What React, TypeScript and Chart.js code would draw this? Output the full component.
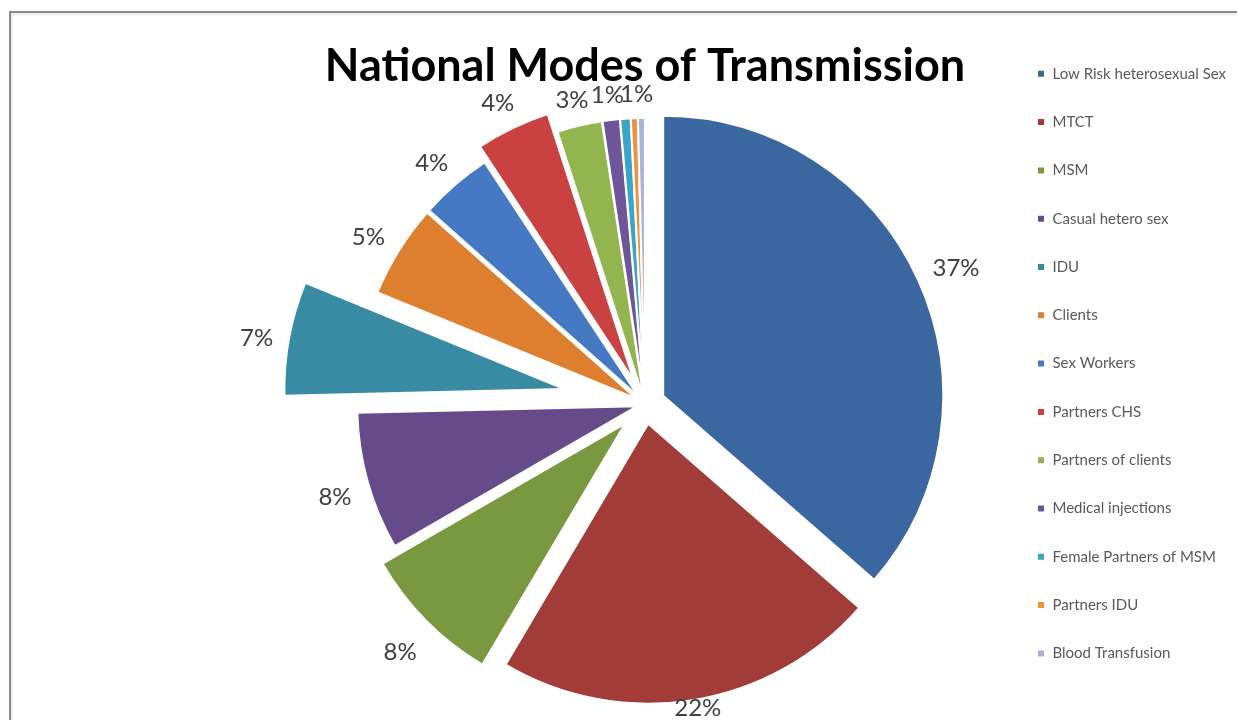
import React, { useEffect, useRef } from 'react';
import { Chart, ArcElement, PieController, Title, Legend } from 'chart.js';

const categories = [
  'Low Risk heterosexual Sex',
  'MTCT',
  'MSM',
  'Casual hetero sex',
  'IDU',
  'Clients',
  'Sex Workers',
  'Partners CHS',
  'Partners of clients',
  'Medical injections',
  'Female Partners of MSM',
  'Partners IDU',
  'Blood Transfusion',
];
const shares = [36.6, 22.2, 8.2, 8.0, 6.6, 5.4, 4.2, 4.3, 2.6, 1.0, 0.6, 0.4, 0.4];
const colors = [
  '#3b67a1', '#a13c39', '#7a983f', '#664b8a', '#388ba3', '#de7e2f', '#4579c3',
  '#c94141', '#93b550', '#6f569b', '#3aa6c7', '#f0923e', '#a9b3d9',
];
const explode = [20, 20, 28, 8, 82, 10, 10, 26, 6, 6, 6, 6, 6];

const TITLE = 'National Modes of Transmission';
const LEGEND_FONT = { family: 'Lato', size: 15 };
const PIE_CX = 645;
const PIE_CY = 404;
const LEGEND_BOX_X = 1037;
const LEGEND_PAD = 33.3;
const TOP_PAD = 33;
const TITLE_SIZE = 45;
const TITLE_PAD_TOP = 6;

class ExplodedArc extends ArcElement {
  static id = 'explodedArc';
  draw(ctx: CanvasRenderingContext2D) {
    const d = (this as any).explodeBy || 0;
    const a: any = this;
    const half = (a.startAngle + a.endAngle) / 2;
    ctx.save();
    ctx.translate(Math.cos(half) * d, Math.sin(half) * d);
    super.draw(ctx);
    ctx.restore();
  }
}

class ExplodedPieController extends PieController {
  static id = 'explodedPie';
  static defaults = { dataElementType: 'explodedArc' };
  updateElements(arcs: any[], start: number, count: number, mode: any) {
    super.updateElements(arcs as any, start, count, mode);
    for (let i = start; i < start + count; i++) {
      arcs[i].explodeBy = explode[i] || 0;
    }
  }
}

Chart.register(ArcElement, PieController, ExplodedArc, ExplodedPieController as any, Title, Legend);

const pctLabels = {
  id: 'pctLabels',
  afterDatasetsDraw(chart: any) {
    const meta = chart.getDatasetMeta(0);
    const ctx: CanvasRenderingContext2D = chart.ctx;
    ctx.save();
    ctx.font = '24px Lato';
    ctx.fillStyle = '#404040';
    ctx.textAlign = 'center';
    ctx.textBaseline = 'middle';
    const h = 30;
    const drop = 6;
    let prev: { l: number; r: number; t: number; b: number } | null = null;
    meta.data.forEach((arc: any, i: number) => {
      const pct = Math.round(shares[i]);
      if (pct < 1) return;
      const p = arc.getProps(['x', 'y', 'startAngle', 'endAngle', 'outerRadius'], true);
      const half = (p.startAngle + p.endAngle) / 2;
      const c = Math.cos(half);
      const s = Math.sin(half);
      const text = pct + '%';
      const w = ctx.measureText(text).width;
      const dist = p.outerRadius + explode[i] + 14 + Math.abs(c) * w / 2 + Math.abs(s) * h / 2;
      let x = p.x + c * dist;
      let y = Math.min(p.y + s * dist + drop, chart.height - 12);
      const th = 18;
      if (prev && x - w / 2 < prev.r && x + w / 2 > prev.l && y - th / 2 < prev.b && y + th / 2 > prev.t) {
        x = prev.r + w / 2 - 4;
      }
      ctx.fillText(text, x, y);
      prev = { l: x - w / 2, r: x + w / 2, t: y - th / 2, b: y + th / 2 };
    });
    ctx.restore();
  },
};

export default function App() {
  const ref = useRef<HTMLCanvasElement>(null);

  useEffect(() => {
    if (!ref.current) return;
    const mctx = document.createElement('canvas').getContext('2d')!;
    mctx.font = `${LEGEND_FONT.size}px ${LEGEND_FONT.family}`;
    const maxText = Math.max(...categories.map((c) => mctx.measureText(c).width));
    const itemWidth = 8 + LEGEND_FONT.size / 2 + maxText;
    const R = Math.max(0, 1237 - LEGEND_BOX_X - itemWidth - 10);
    const legendWidth = LEGEND_PAD + itemWidth + 10;
    const legendLeft = 1237 - R - legendWidth;
    const L = 2 * PIE_CX - legendLeft;
    const areaTop = TOP_PAD + TITLE_PAD_TOP + TITLE_SIZE * 1.2;
    const B = Math.max(0, areaTop + 720 - 2 * PIE_CY);

    const chart = new Chart(ref.current, {
      type: 'explodedPie' as any,
      data: {
        labels: categories,
        datasets: [
          {
            data: shares,
            backgroundColor: colors,
            borderColor: '#ffffff',
            borderWidth: 2,
            radius: 280,
            clip: false,
          } as any,
        ],
      },
      plugins: [pctLabels],
      options: {
        responsive: false,
        animation: false,
        events: [],
        layout: { padding: { left: L, right: R, top: TOP_PAD, bottom: B } },
        plugins: {
          title: {
            display: true,
            text: TITLE,
            fullSize: false,
            color: '#000000',
            font: { family: 'Lato', size: TITLE_SIZE, weight: 'bold' },
            padding: { top: TITLE_PAD_TOP, bottom: 0 },
          },
          legend: {
            display: true,
            position: 'right',
            align: 'start',
            labels: {
              boxWidth: 8,
              boxHeight: 8,
              padding: LEGEND_PAD,
              color: '#595959',
              font: LEGEND_FONT,
            },
          },
          tooltip: { enabled: false },
        },
      } as any,
    });
    return () => chart.destroy();
  }, []);

  return (
    <div style={{ position: 'fixed', left: 0, top: 0, width: 1237, height: 720, overflow: 'hidden', background: '#fff' }}>
      <div
        style={{
          position: 'absolute',
          left: 9,
          top: 11,
          width: 1300,
          height: 800,
          borderTop: '2px solid #8a8a8a',
          borderLeft: '2px solid #8a8a8a',
          boxShadow: 'inset 2px 2px 2px rgba(0,0,0,0.08)',
        }}
      />
      <canvas ref={ref} width={1237} height={720} style={{ position: 'absolute', left: 0, top: 0 }} />
    </div>
  );
}
